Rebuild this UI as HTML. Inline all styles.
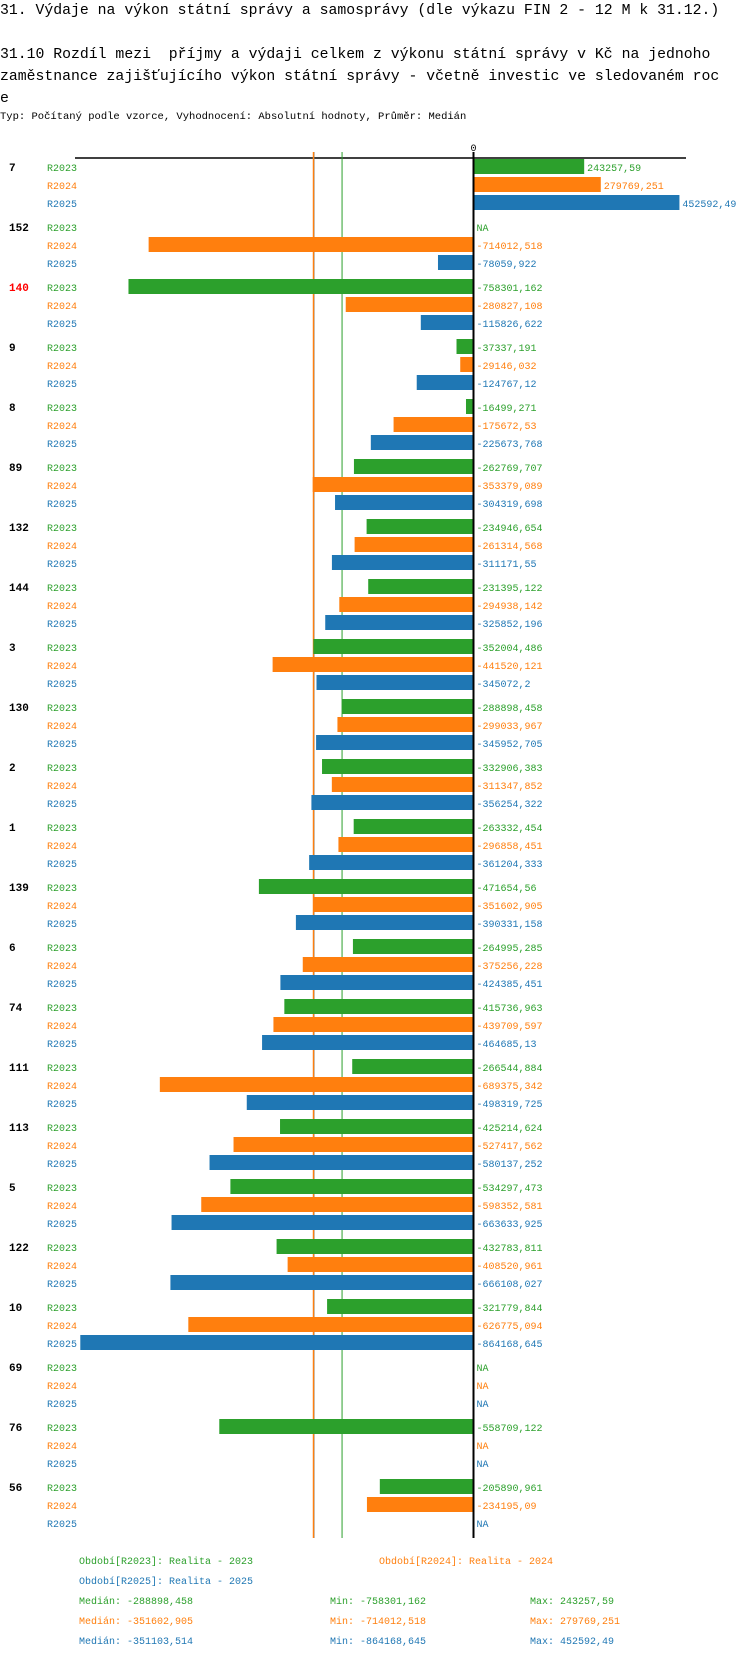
<!DOCTYPE html>
<html><head><meta charset="utf-8"><style>
body{margin:0;background:#fff;width:750px;height:1658px;overflow:hidden;position:relative;font-family:"Liberation Mono",monospace}
.t{position:absolute;white-space:pre;color:#000}
</style></head><body>
<div class="t" style="left:0;top:1px;font-size:14.8px;line-height:20px">31. Výdaje na výkon státní správy a samosprávy (dle výkazu FIN 2 - 12 M k 31.12.)</div>
<div class="t" style="left:0;top:44px;font-size:14.8px;line-height:22px">31.10 Rozdíl mezi  příjmy a výdaji celkem z výkonu státní správy v Kč na jednoho
zaměstnance zajišťujícího výkon státní správy - včetně investic ve sledovaném roc
e</div>
<div class="t" style="left:0;top:110px;font-size:10.5px;line-height:14px">Typ: Počítaný podle vzorce, Vyhodnocení: Absolutní hodnoty, Průměr: Medián</div>
<svg id="chart" width="750" height="1658" style="position:absolute;left:0;top:0" xmlns="http://www.w3.org/2000/svg"></svg>
<script>
const groups=["7","152","140","9","8","89","132","144","3","130","2","1","139","6","74","111","113","5","122","10","69","76","56"];
const v2023=[243257.59,null,-758301.162,-37337.191,-16499.271,-262769.707,-234946.654,-231395.122,-352004.486,-288898.458,-332906.383,-263332.454,-471654.56,-264995.285,-415736.963,-266544.884,-425214.624,-534297.473,-432783.811,-321779.844,null,-558709.122,-205890.961];
const v2024=[279769.251,-714012.518,-280827.108,-29146.032,-175672.53,-353379.089,-261314.568,-294938.142,-441520.121,-299033.967,-311347.852,-296858.451,-351602.905,-375256.228,-439709.597,-689375.342,-527417.562,-598352.581,-408520.961,-626775.094,null,null,-234195.09];
const v2025=[452592.49,-78059.922,-115826.622,-124767.12,-225673.768,-304319.698,-311171.55,-325852.196,-345072.2,-345952.705,-356254.322,-361204.333,-390331.158,-424385.451,-464685.13,-498319.725,-580137.252,-663633.925,-666108.027,-864168.645,null,null,null];
const seriesNames=["R2023","R2024","R2025"];
const colors=["#2ca02c","#ff7f0e","#1f77b4"];
const medians=[-288898.458,-351602.905,-351103.514];
const mins=[-758301.162,-714012.518,-864168.645];
const maxs=[243257.59,279769.251,452592.49];
const highlight="140";
const svg=document.getElementById('chart');
const NS="http://www.w3.org/2000/svg";
const X0=473.5,K=0.000455;
const xs=v=>X0+v*K;
const rowY=(g,s)=>167+g*60+s*18;
function el(tag,attrs,txt){const e=document.createElementNS(NS,tag);for(const k in attrs)e.setAttribute(k,attrs[k]);if(txt!=null)e.textContent=txt;svg.appendChild(e);return e;}
const fmt=v=>v===null?"NA":String(v).replace('.',',');
let e=el('line',{x1:75,x2:686,y1:158,y2:158,stroke:'#000','stroke-width':1.5});


e=el('text',{x:X0,y:151,'font-size':10,'text-anchor':'middle','font-family':'Liberation Mono, monospace'},'0');


[2,1,0].forEach(s=>{
  const m=el('line',{x1:xs(medians[s]),x2:xs(medians[s]),y1:152,y2:1538,stroke:colors[s],'stroke-width':s===0?1:1.5});
  
  
});
const data=[v2023,v2024,v2025];
groups.forEach((g,gi)=>{
  const t=el('text',{x:9,y:rowY(gi,0)+4,'font-size':11,'font-weight':'bold',fill:g===highlight?'#ff0000':'#000','font-family':'Liberation Mono, monospace'},g);
  
  
  for(let s=0;s<3;s++){
    const y=rowY(gi,s),v=data[s][gi];
    const l=el('text',{x:47,y:y+4,'font-size':10,fill:colors[s],'font-family':'Liberation Mono, monospace'},seriesNames[s]);
    
    
    if(v!==null){
      const x1=Math.min(xs(v),X0),w=Math.abs(xs(v)-X0);
      const b=el('rect',{x:x1,y:y-8,width:w,height:15,fill:colors[s]});
      
      
    }
    const lx=(v!==null&&v>0)?xs(v)+3:X0+3;
    const vl=el('text',{x:lx,y:y+4,'font-size':10,fill:colors[s],'font-family':'Liberation Mono, monospace'},fmt(v));
    
    
  }
});
e=el('line',{x1:X0,x2:X0,y1:152,y2:1538,stroke:'#000','stroke-width':2});


const leg=[[79,1564,0,"Období[R2023]: Realita - 2023"],[379,1564,1,"Období[R2024]: Realita - 2024"],[79,1584,2,"Období[R2025]: Realita - 2025"]];
leg.forEach(a=>{const t=el('text',{x:a[0],y:a[1],'font-size':10,fill:colors[a[2]],'font-family':'Liberation Mono, monospace'},a[3]);

});
for(let s=0;s<3;s++){
  const y=1604+s*20;
  let t=el('text',{x:79,y:y,'font-size':10,fill:colors[s],'font-family':'Liberation Mono, monospace'},'Medián: '+fmt(medians[s]));
  
  
  t=el('text',{x:330,y:y,'font-size':10,fill:colors[s],'font-family':'Liberation Mono, monospace'},'Min: '+fmt(mins[s]));
  
  
  t=el('text',{x:530,y:y,'font-size':10,fill:colors[s],'font-family':'Liberation Mono, monospace'},'Max: '+fmt(maxs[s]));
  
  
}
</script>
</body></html>
